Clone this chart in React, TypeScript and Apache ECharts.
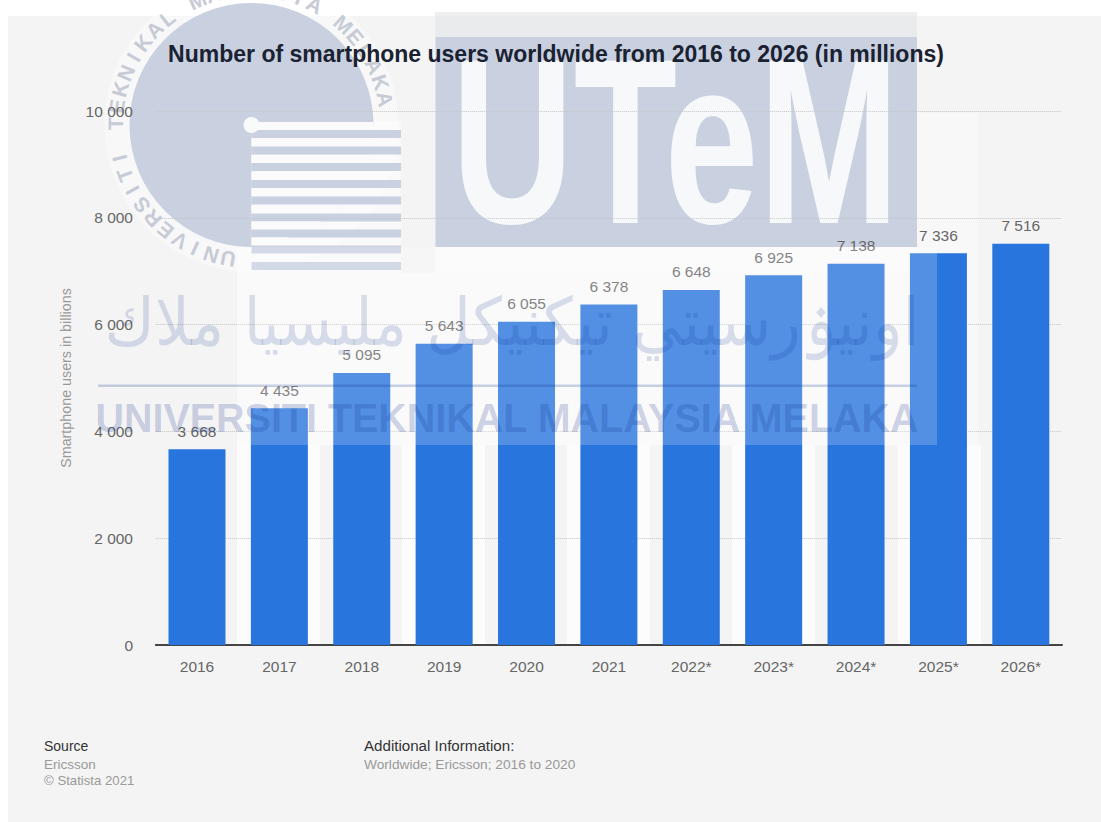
import React, { useEffect, useRef } from "react";
import * as echarts from "echarts";

// Smartphone users by year, in millions
const years = ["2016", "2017", "2018", "2019", "2020", "2021", "2022*", "2023*", "2024*", "2025*", "2026*"];
const users = [3668, 4435, 5095, 5643, 6055, 6378, 6648, 6925, 7138, 7336, 7516];

const chartTitle = "Number of smartphone users worldwide from 2016 to 2026 (in millions)";
const yAxisName = "Smartphone users in billions";
const sourceLines = ["Ericsson", "© Statista 2021"];
const additionalInfo = "Worldwide; Ericsson; 2016 to 2020";

// University stamp laid across the chart
const sealText = "UNIVERSITI TEKNIKAL MALAYSIA MELAKA";
const jawiText = "اونيۏرسيتي تيكنيكل مليسيا ملاك";
const brandText = "UTeM";

const SANS = '"Liberation Sans", Arial, sans-serif';
const STAMP = "#c9d0e0";
const OVERLAY = "rgba(10,45,140,0.21)";

const spaced = (v: number) => String(v).replace(/\B(?=(\d{3})+$)/g, " ");

// Elements under the axes and bars: the seal and the UTeM block
function stampBack(): any[] {
  const cx = 251.5;
  const cy = 125;
  const r = 122;
  const out: any[] = [
    { type: "rect", z: -9, silent: true, shape: { x: 8, y: 16, width: 1093, height: 806 }, style: { fill: "#f4f4f4" } },
    // pale patches around the stamp pieces
    { type: "rect", z: -8, silent: true, shape: { x: 237, y: 121, width: 164, height: 152 }, style: { fill: "rgba(255,255,255,0.45)" } },
    { type: "rect", z: -8, silent: true, shape: { x: 237, y: 273, width: 700, height: 172 }, style: { fill: "rgba(255,255,255,0.45)" } },
    { type: "rect", z: -8, silent: true, shape: { x: 917, y: 113, width: 61, height: 332 }, style: { fill: "rgba(255,255,255,0.4)" } },
    { type: "rect", z: -8, silent: true, shape: { x: 435, y: 12, width: 482, height: 25 }, style: { fill: "rgba(225,228,232,0.6)" } },
    { type: "rect", z: -8, silent: true, shape: { x: 435, y: 247, width: 482, height: 26 }, style: { fill: "rgba(255,255,255,0.5)" } },
    { type: "ring", z: -7, silent: true, shape: { cx, cy, r: 147, r0: r }, style: { fill: "rgba(255,255,255,0.35)" } },
    {
      type: "sector", z: -6, silent: true,
      shape: { cx, cy, r, r0: 0, startAngle: Math.PI / 2, endAngle: Math.PI * 2, clockwise: true },
      style: { fill: STAMP },
    },
    { type: "rect", z: -6, silent: true, shape: { x: 435.5, y: 37, width: 481.5, height: 210 }, style: { fill: STAMP } },
    { type: "circle", z: -4, silent: true, shape: { cx: 251.5, cy: 125, r: 8 }, style: { fill: "#f9fafa" } },
    {
      type: "text", z: -5, silent: true, x: 675.5, y: 142,
      scaleX: 0.72, scaleY: 1,
      style: {
        text: brandText, fill: "#f7f8f9", font: `bold 235px ${SANS}`,
        textAlign: "center", textVerticalAlign: "middle",
      },
    },
  ];
  // Pale vertical bands repeating across the lower plot
  [237, 402, 567, 732, 898].forEach((x) => {
    out.push({
      type: "rect", z: -8, silent: true,
      shape: { x, y: 445, width: 83, height: 200 },
      style: { fill: "rgba(255,255,255,0.7)" },
    });
  });
  // Striped quarter of the seal: a brighter gap inside the disc's radius, a blue bar below it
  const stripeTops = [130, 146.5, 163, 180, 196.5, 213.5, 229.5, 245.5, 262];
  stripeTops.forEach((top) => {
    const dy = top - 8 - cy + 4;
    const reach = dy < r ? Math.sqrt(r * r - dy * dy) : 0;
    out.push({
      type: "rect", z: -5, silent: true,
      shape: { x: cx, y: top - 8, width: Math.min(reach, 150), height: 8 },
      style: { fill: "#fbfbfc" },
    });
    out.push({
      type: "rect", z: -5, silent: true,
      shape: { x: cx, y: top, width: 149.5, height: 8 },
      style: { fill: STAMP },
    });
  });
  // Letters set around the seal, clockwise from the bottom
  const start = 100;
  const sweep = 249;
  const chars = Array.from(sealText);
  chars.forEach((ch, i) => {
    if (ch === " ") return;
    const deg = start + (sweep * i) / (chars.length - 1);
    const a = (deg * Math.PI) / 180;
    out.push({
      type: "text", z: -5, silent: true,
      x: cx + 136 * Math.cos(a), y: cy + 136 * Math.sin(a),
      rotation: -(a + Math.PI / 2),
      style: { text: ch, fill: "#c6cbd6", font: `bold 21px ${SANS}`, textAlign: "center", textVerticalAlign: "middle" },
    });
  });
  return out;
}

// Elements over the bars: veil, jawi line, rule and the university name
function stampFront(): any[] {
  return [
    { type: "rect", z: 20, silent: true, shape: { x: 237, y: 247, width: 700, height: 198 }, style: { fill: "rgba(255,255,255,0.2)" } },
    {
      type: "text", z: 21, silent: true, x: 512, y: 322, scaleX: 1.02, scaleY: 1.1,
      style: { text: jawiText, fill: "rgba(10,45,140,0.15)", font: '60px "DejaVu Sans"', textAlign: "center", textVerticalAlign: "middle" },
    },
    { type: "rect", z: 21, silent: true, shape: { x: 98, y: 384.5, width: 819, height: 2.5 }, style: { fill: OVERLAY } },
    {
      type: "text", z: 21, silent: true, x: 507, y: 418, scaleX: 0.987,
      style: { text: sealText, fill: OVERLAY, font: `bold 40px ${SANS}`, textAlign: "center", textVerticalAlign: "middle" },
    },
  ];
}

// Source notes under the plot
function notes(): any[] {
  const label = (text: string, x: number, y: number, fill: string, size: number, scaleX = 1) => ({
    type: "text", z: 5, silent: true, x, y, scaleX,
    style: { text, fill, font: `${size}px ${SANS}`, textVerticalAlign: "middle" },
  });
  return [
    label("Source", 44, 746, "#333333", 14),
    label(sourceLines[0], 44, 764, "#999999", 13.5),
    label(sourceLines[1], 44, 780, "#999999", 13.2),
    label("Additional Information:", 364, 746, "#333333", 14, 1.08),
    label(additionalInfo, 364, 764, "#999999", 13.7),
  ];
}

export default function App() {
  const ref = useRef<HTMLDivElement>(null);

  useEffect(() => {
    document.body.style.margin = "0";
    const chart = echarts.init(ref.current!, undefined, { renderer: "svg" });
    chart.setOption({
      animation: false,
      backgroundColor: "#ffffff",
      textStyle: { fontFamily: SANS },
      title: {
        text: chartTitle,
        left: 551,
        top: 37,
        textAlign: "center",
        textStyle: { fontFamily: SANS, fontSize: 23, fontWeight: "bold", color: "#1a2232" },
      },
      grid: { left: 155.8, right: 39, top: 111, height: 534 },
      xAxis: {
        type: "category",
        data: years,
        axisTick: { show: false },
        axisLine: { lineStyle: { color: "#444444", width: 2 } },
        axisLabel: { color: "#666666", fontSize: 15.5, margin: 13 },
      },
      yAxis: {
        type: "value",
        min: 0,
        max: 10000,
        interval: 2000,
        axisLine: { show: false },
        axisTick: { show: false },
        axisLabel: { color: "#666666", fontSize: 15.5, margin: 22.8, formatter: spaced },
        splitLine: { lineStyle: { color: "#c4c4c4", type: "dotted", width: 1 } },
        name: yAxisName,
        nameLocation: "middle",
        nameGap: 83,
        nameTextStyle: { color: "#999999", fontSize: 14.3 },
      },
      series: [
        {
          type: "bar",
          data: users,
          barWidth: 57,
          itemStyle: { color: "#2975de" },
          label: {
            show: true,
            position: "top",
            distance: 10,
            color: "#666666",
            fontSize: 15.5,
            formatter: (p: any) => spaced(p.value),
          },
        },
      ],
      graphic: { elements: [...stampBack(), ...notes(), ...stampFront()] },
    });
    return () => chart.dispose();
  }, []);

  return <div ref={ref} style={{ width: 1101, height: 822 }} />;
}
